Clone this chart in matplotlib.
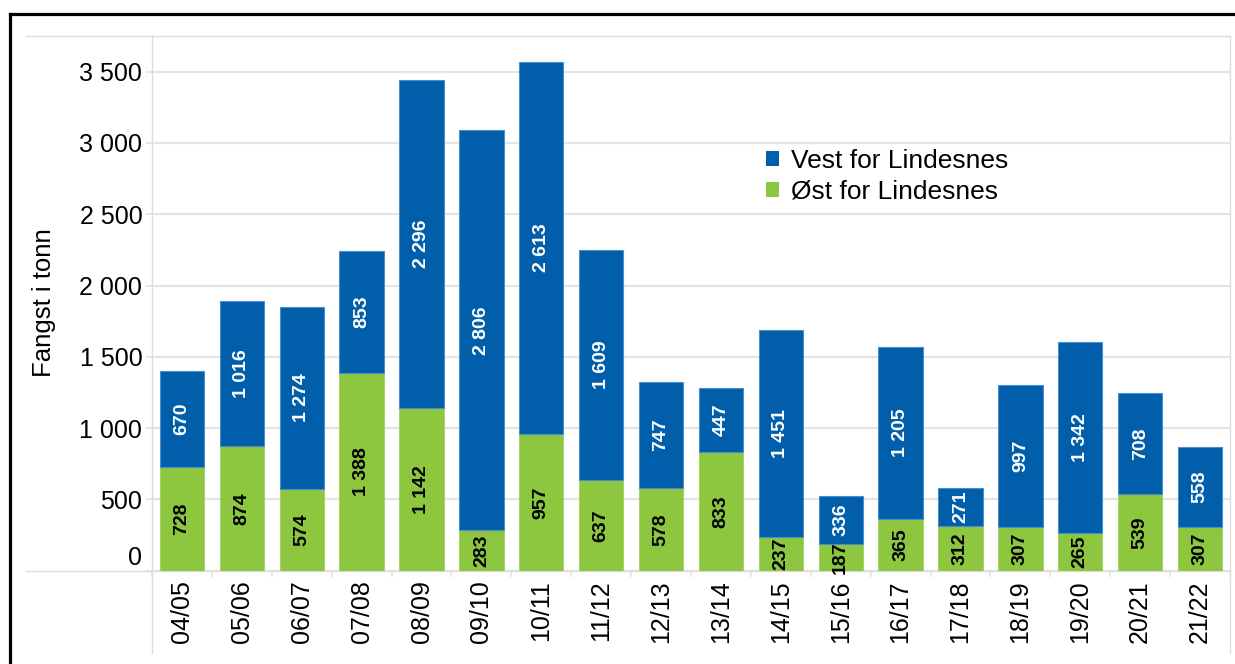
import numpy as np
import matplotlib.pyplot as plt
import matplotlib.transforms as mtransforms
from matplotlib.lines import Line2D
from matplotlib.patches import Patch

plt.rcParams['font.family'] = ['Liberation Sans', 'DejaVu Sans']

seasons = ['04/05', '05/06', '06/07', '07/08', '08/09', '09/10', '10/11', '11/12', '12/13',
           '13/14', '14/15', '15/16', '16/17', '17/18', '18/19', '19/20', '20/21', '21/22']
ost = [728, 874, 574, 1388, 1142, 283, 957, 637, 578, 833, 237, 187, 365, 312, 307, 265, 539, 307]
vest = [670, 1016, 1274, 853, 2296, 2806, 2613, 1609, 747, 447, 1451, 336, 1205, 271, 997, 1342, 708, 558]
yticks = [0, 500, 1000, 1500, 2000, 2500, 3000, 3500]

blue = '#005EAA'
green = '#8DC63F'
grid_col = '#e4e4e4'


def fmt(v):
    return f"{v:,}".replace(",", " ")


W, H = 1235, 664
fig = plt.figure(figsize=(W / 100, H / 100), dpi=100)
ax = fig.add_axes([152 / W, 1 - 570.7 / H, (1230 - 152) / W, (570.7 - 36) / H])

x = np.arange(len(seasons))
ost = np.array(ost)
vest = np.array(vest)
bw = 0.74
ax.bar(x, ost, width=bw, color=green, edgecolor='#a6d36a', linewidth=0.8, zorder=3)
ax.bar(x, vest, bottom=ost, width=bw, color=blue, edgecolor='#4a8fcc', linewidth=0.8, zorder=3)

for i in range(len(seasons)):
    ax.text(x[i], ost[i] / 2, fmt(ost[i]), rotation=90, ha='center', va='center',
            fontsize=14, fontweight='bold', color='black', zorder=4)
    ax.text(x[i], ost[i] + vest[i] / 2, fmt(vest[i]), rotation=90, ha='center', va='center',
            fontsize=14, fontweight='bold', color='white', zorder=4)

ax.set_xlim(-0.5, len(seasons) - 0.5)
ax.set_ylim(0, 3750)
ax.set_yticks(yticks)
ax.set_yticklabels([fmt(v) for v in yticks], fontsize=18)
ax.set_xticks(x)
ax.set_xticklabels(seasons, rotation=90, fontsize=18)
ax.tick_params(axis='x', length=0, pad=7)
ax.set_xticks(np.arange(len(seasons) + 1) - 0.5, minor=True)
ax.tick_params(axis='x', which='minor', length=4, color=grid_col, width=1.2)
ax.tick_params(axis='y', length=4, color=grid_col, width=1.2, pad=3)

# the "0" label sits a bit above the baseline in the original
zero_lbl = ax.get_yticklabels()[0]
zero_lbl.set_transform(zero_lbl.get_transform() +
                       mtransforms.ScaledTranslation(0, 15 / 100, fig.dpi_scale_trans))

ax.grid(axis='y', color=grid_col, linewidth=1.6, zorder=0)
ax.set_axisbelow(True)
for s in ax.spines.values():
    s.set_color('#dcdcdc')
    s.set_linewidth(1.0)


# light frame around chart area
def fline(x0, y0, x1, y1, **kw):
    fig.add_artist(Line2D([x0 / W, x1 / W], [1 - y0 / H, 1 - y1 / H],
                          transform=fig.transFigure, **kw))


fline(26, 36, 152, 36, color='#dcdcdc', lw=1.0)
fline(26, 570.7, 152, 570.7, color='#dcdcdc', lw=1.0)
fline(152, 570.7, 152, 653, color='#dcdcdc', lw=1.0)
fline(1230, 570.7, 1230, 653, color='#dcdcdc', lw=1.0)

# black outer frame
fline(10, 14, 10, H + 5, color='black', lw=2.3)
fline(10, 14, W + 5, 14, color='black', lw=2.3)

fig.text(44 / W, 1 - 303 / H, 'Fangst i tonn', rotation=90, ha='center', va='center', fontsize=18.5)

handles = [Patch(facecolor=blue, edgecolor='none'), Patch(facecolor=green, edgecolor='none')]
fig.legend(handles, ['Vest for Lindesnes', 'Øst for Lindesnes'], loc='upper left',
           bbox_to_anchor=(766 / W, 1 - 149 / H), frameon=False, fontsize=19,
           handlelength=0.5, handleheight=0.5, handletextpad=0.45, labelspacing=0.25,
           borderpad=0, borderaxespad=0)

fig.savefig('out.png', dpi=100)
